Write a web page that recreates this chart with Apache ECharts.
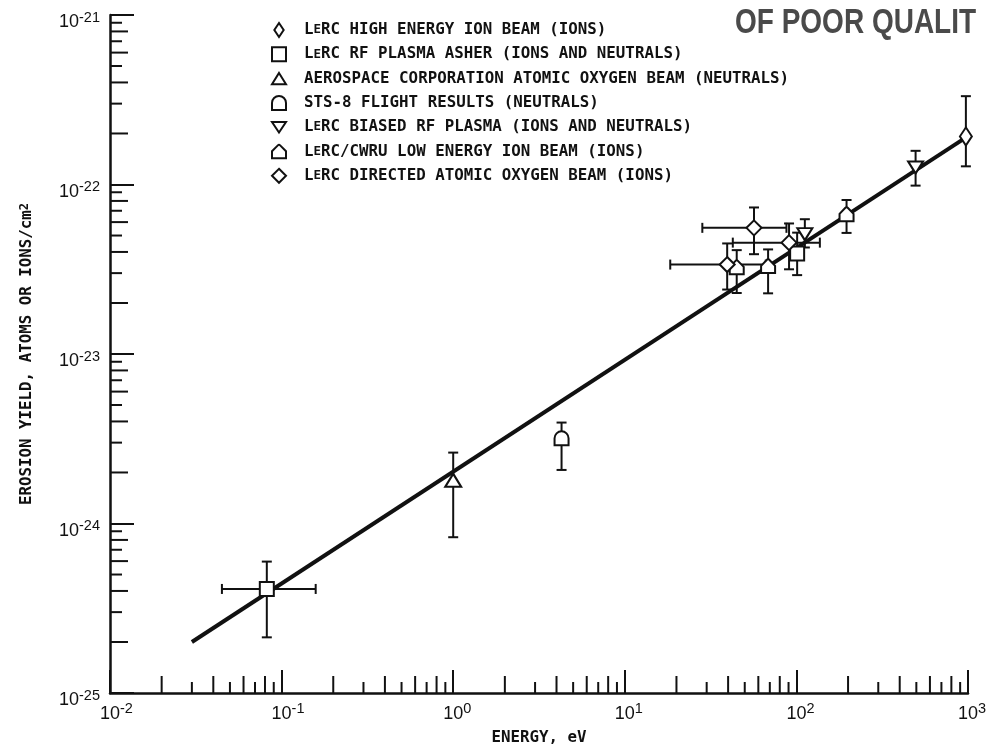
<!DOCTYPE html>
<html>
<head>
<meta charset="utf-8">
<script src="https://cdn.jsdelivr.net/npm/echarts@6/dist/echarts.min.js"></script>
<style>html,body{margin:0;padding:0;background:#fff}#c{width:986px;height:751px}</style>
</head>
<body>
<div id="c"></div>
<script>
// ---------------- data ----------------
// each point: [energy eV, yield, xErrLow, xErrHigh, yErrLow, yErrHigh]
const highEnergyIonBeam = [[972, 1.92e-22, null, null, 1.28e-22, 3.32e-22]];
const rfPlasmaAsher = [[0.082, 4.11e-25, 0.0449, 0.158, 2.13e-25, 5.96e-25],
                       [101, 3.92e-23, null, null, 2.92e-23, 5.2e-23]];
const aerospaceBeam = [[1.0, 1.80e-24, null, null, 8.3e-25, 2.62e-24]];
const sts8Flight = [[4.28, 3.18e-24, null, null, 2.07e-24, 3.94e-24]];
const biasedRfPlasma = [[112, 5.09e-23, null, null, 4.25e-23, 6.24e-23],
                        [495, 1.26e-22, null, null, 9.85e-23, 1.58e-22]];
const lowEnergyIonBeam = [[44.9, 3.25e-23, null, null, 2.29e-23, 4.10e-23],
                          [68.4, 3.30e-23, null, null, 2.28e-23, 4.14e-23],
                          [196, 6.68e-23, null, null, 5.18e-23, 8.10e-23]];
const directedOxygenBeam = [[56.6, 5.55e-23, 28.3, 87.5, 3.88e-23, 7.32e-23],
                            [90.6, 4.54e-23, 42.6, 137, 3.16e-23, 5.89e-23],
                            [39.5, 3.37e-23, 18.4, 66.3, 2.40e-23, 4.49e-23]];
const fitLineX = [0.03, 1000];
const fitLineY = [2.0e-25, 1.93e-22];
const seriesNames = [
  'LeRC HIGH ENERGY ION BEAM (IONS)',
  'LeRC RF PLASMA ASHER (IONS AND NEUTRALS)',
  'AEROSPACE CORPORATION ATOMIC OXYGEN BEAM (NEUTRALS)',
  'STS-8 FLIGHT RESULTS (NEUTRALS)',
  'LeRC BIASED RF PLASMA (IONS AND NEUTRALS)',
  'LeRC/CWRU LOW ENERGY ION BEAM (IONS)',
  'LeRC DIRECTED ATOMIC OXYGEN BEAM (IONS)'
];
const xTickValues = [1e-2, 1e-1, 1e0, 1e1, 1e2, 1e3];
const yTickExponents = [-25, -24, -23, -22, -21];
const minorMantissas = [2, 3, 4, 5, 6, 7, 8, 9];
const xAxisTitle = 'ENERGY, eV';
const yAxisTitle = 'EROSION YIELD, ATOMS OR IONS/cm';
const stampText = 'OF POOR QUALIT';

const yTickValues = yTickExponents.map(e => Math.pow(10, e));
const xMin = xTickValues[0], xMax = xTickValues[xTickValues.length - 1];
const yMin = yTickValues[0], yMax = yTickValues[yTickValues.length - 1];

// ---------------- styles ----------------
const INK = '#111';
const MONO = '"DejaVu Sans Mono",monospace';
const NUM = '"Liberation Sans",Arial,sans-serif';
const symbols = [
  {path: 'path://M1,0 L2,1.5 L1,3 L0,1.5 Z', size: [12, 18]},
  {path: 'path://M0,0 L1,0 L1,1 L0,1 Z', size: [14, 14]},
  {path: 'path://M1,0 L2,1.6 L0,1.6 Z', size: [16, 13]},
  {path: 'path://M0,12 L0,6 A6,6 0 0 1 12,6 L12,12 Z', size: [14, 14]},
  {path: 'path://M0,0 L2,0 L1,1.5 Z', size: [15, 12]},
  {path: 'path://M0,12 L0,6 L5,1 Q6,0 7,1 L12,6 L12,12 Z', size: [14, 14]},
  {path: 'path://M1,0 L2,1 L1,2 L0,1 Z', size: [15, 15]}
];
const groups = [highEnergyIonBeam, rfPlasmaAsher, aerospaceBeam, sts8Flight,
                biasedRfPlasma, lowEnergyIonBeam, directedOxygenBeam];

const allPoints = [].concat(...groups);
function makeRich() {
  return {
    b: {fontSize: 18, lineHeight: 16, verticalAlign: 'bottom', fontFamily: NUM, color: INK},
    s: {fontSize: 14.5, lineHeight: 28, verticalAlign: 'middle', fontFamily: NUM, color: INK},
    p: {fontSize: 14.5, lineHeight: 28, verticalAlign: 'middle', fontFamily: NUM, color: 'rgba(0,0,0,0)'}
  };
}
function supText(e) { return e < 0 ? '-' + (-e) : String(e); }

const errorBarSeries = {
  type: 'custom', z: 2, clip: false, silent: true,
  data: allPoints.map(p => [p[0], p[1]]),
  renderItem: function (params, api) {
    const e = allPoints[params.dataIndex];
    const ch = [];
    const st = {stroke: INK, lineWidth: 2};
    const cap = 5;
    if (e[4] != null) {
      const lo = api.coord([e[0], e[4]]), hi = api.coord([e[0], e[5]]);
      ch.push({type: 'line', shape: {x1: lo[0], y1: lo[1], x2: hi[0], y2: hi[1]}, style: st});
      ch.push({type: 'line', shape: {x1: lo[0] - cap, y1: lo[1], x2: lo[0] + cap, y2: lo[1]}, style: st});
      ch.push({type: 'line', shape: {x1: hi[0] - cap, y1: hi[1], x2: hi[0] + cap, y2: hi[1]}, style: st});
    }
    if (e[2] != null) {
      const l = api.coord([e[2], e[1]]), r = api.coord([e[3], e[1]]);
      ch.push({type: 'line', shape: {x1: l[0], y1: l[1], x2: r[0], y2: r[1]}, style: st});
      ch.push({type: 'line', shape: {x1: l[0], y1: l[1] - cap, x2: l[0], y2: l[1] + cap}, style: st});
      ch.push({type: 'line', shape: {x1: r[0], y1: r[1] - cap, x2: r[0], y2: r[1] + cap}, style: st});
    }
    return {type: 'group', children: ch};
  }
};

const xMinorData = [], yMinorData = [];
xTickValues.slice(0, -1).forEach(d => minorMantissas.forEach(m => xMinorData.push([m * d, yMin, m])));
yTickValues.slice(0, -1).forEach(d => minorMantissas.forEach(m => yMinorData.push([xMin, m * d, m])));

const xMinorSeries = {
  type: 'custom', z: 1, clip: false, silent: true, data: xMinorData,
  renderItem: function (params, api) {
    const p = api.coord([api.value(0), api.value(1)]);
    const len = api.value(2) % 2 === 0 ? 17 : 11;
    return {type: 'line', shape: {x1: p[0], y1: p[1], x2: p[0], y2: p[1] - len}, style: {stroke: INK, lineWidth: 2}};
  }
};
const yMinorSeries = {
  type: 'custom', z: 1, clip: false, silent: true, data: yMinorData,
  renderItem: function (params, api) {
    const p = api.coord([api.value(0), api.value(1)]);
    const len = api.value(2) % 2 === 0 ? 18 : 12;
    return {type: 'line', shape: {x1: p[0], y1: p[1], x2: p[0] + len, y2: p[1]}, style: {stroke: INK, lineWidth: 2}};
  }
};

const scatterSeries = groups.map((g, i) => ({
  name: seriesNames[i], type: 'scatter', z: 5,
  symbol: symbols[i].path, symbolSize: symbols[i].size,
  itemStyle: {color: '#fff', borderColor: INK, borderWidth: 2, opacity: 1},
  emphasis: {disabled: true},
  data: g.map(p => [p[0], p[1]])
}));

const fitSeries = {
  type: 'line', z: 3, silent: true, symbol: 'none',
  lineStyle: {color: INK, width: 4},
  data: fitLineX.map((x, i) => [x, fitLineY[i]])
};

const option = {
  backgroundColor: '#fff',
  animation: false,
  grid: {left: 110, right: 18, top: 15, bottom: 58, containLabel: false, outerBoundsMode: 'none'},
  legend: {
    orient: 'vertical', left: 271, top: 20, padding: 0,
    itemWidth: 14, itemHeight: 14, itemGap: 4.3, selectedMode: false,
    data: seriesNames.map((n, i) => ({
      name: n, icon: symbols[i].path,
      itemStyle: {color: '#fff', borderColor: INK, borderWidth: 2}
    })),
    formatter: n => '{p| }' + n.replace('LeRC', 'L{e|E}RC'),
    textStyle: {
      fontFamily: MONO, fontSize: 15.8, fontWeight: 'bold', color: INK, lineHeight: 20,
      rich: {
        p: {width: 13, fontSize: 15.8, fontFamily: MONO},
        e: {fontSize: 12.5, fontFamily: MONO, fontWeight: 'bold', color: INK}
      }
    }
  },
  xAxis: {
    type: 'log', logBase: 10, min: xMin, max: xMax,
    name: xAxisTitle, nameLocation: 'middle', nameGap: 37, nameMoveOverlap: false,
    nameTextStyle: {fontFamily: MONO, fontSize: 15.8, fontWeight: 'bold', color: INK},
    axisLine: {show: true, onZero: false, lineStyle: {color: INK, width: 2.5}},
    axisTick: {show: true, inside: true, length: 23, customValues: xTickValues, lineStyle: {color: INK, width: 2}},
    splitLine: {show: false},
    axisLabel: {
      margin: 2, color: INK, fontFamily: NUM, fontSize: 18, customValues: xTickValues,
      formatter: v => { const s = supText(Math.round(Math.log10(v))); return '{p|' + s + '}{b|10}{s|' + s + '}'; },
      rich: makeRich()
    }
  },
  yAxis: [{
    type: 'log', logBase: 10, min: yMin, max: yMax,
    name: yAxisTitle + '{s|2}', nameLocation: 'middle', nameGap: 75, nameRotate: 90, nameMoveOverlap: false,
    nameTextStyle: {fontFamily: MONO, fontSize: 15.8, fontWeight: 'bold', color: INK,
      rich: {s: {fontSize: 12, verticalAlign: 'top', lineHeight: 14, fontFamily: MONO, fontWeight: 'bold', color: INK}}},
    axisLine: {show: true, onZero: false, lineStyle: {color: INK, width: 2.5}},
    axisTick: {show: false},
    axisLabel: {show: false},
    splitLine: {show: false}
  }, {
    // exponent helper axis: decade ticks and labels (10^n) aligned with the log axis
    type: 'value', position: 'left', min: yTickExponents[0], max: yTickExponents[yTickExponents.length - 1], interval: 1,
    axisLine: {show: false},
    axisTick: {show: true, inside: true, length: 24, lineStyle: {color: INK, width: 2}},
    splitLine: {show: false},
    axisLabel: {
      margin: 10, color: INK, fontFamily: NUM, fontSize: 18, padding: [5, 0, 0, 0],
      formatter: v => '{b|10}{s|' + supText(v) + '}',
      rich: makeRich()
    }
  }],
  graphic: [{
    type: 'text', x: 735, y: 5.5, scaleY: 1.25, silent: true,
    style: {text: stampText, fill: '#4a4a4a', font: 'bold 28px "Liberation Sans",Arial,sans-serif', textVerticalAlign: 'top'}
  }],
  series: [xMinorSeries, yMinorSeries, errorBarSeries, fitSeries].concat(scatterSeries)
};

const chart = echarts.init(document.getElementById('c'));
chart.setOption(option);
</script>
</body>
</html>
